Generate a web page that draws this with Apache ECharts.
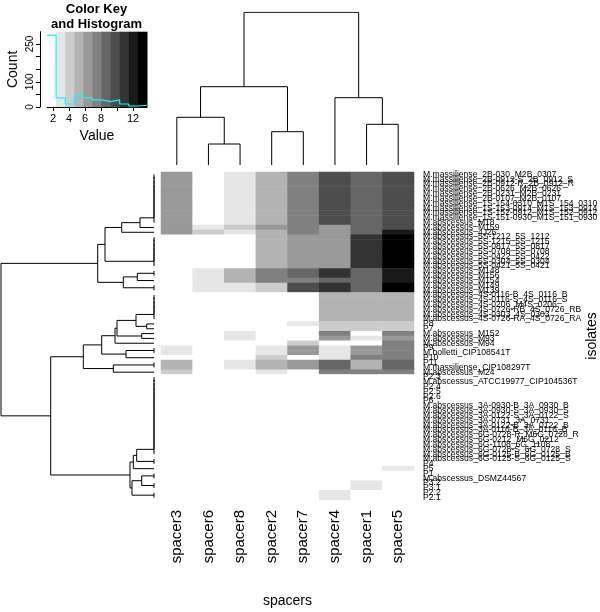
<!DOCTYPE html>
<html><head><meta charset="utf-8">
<script src="https://cdn.jsdelivr.net/npm/echarts@6.0.0/dist/echarts.min.js"></script>
<style>html,body{margin:0;padding:0;background:#fff}#c{width:600px;height:612px}</style>
</head><body><div id="c"></div>
<script>
// ---------- data ----------
const spacers = ['spacer3','spacer6','spacer8','spacer2','spacer7','spacer4','spacer1','spacer5'];
const isolates = [
'M.massiliense_2B-030_M2B_0307','M.massiliense_2B-0912-S_2B_0912_S','M.massiliense_2B-0912-R_2B_0912_R',
'M.massiliense_2B-0626_M2B_0626','M.massiliense_2B-0231_M2B_0231','M.massiliense_2B-0107_M2B_0107',
'M.massiliense_1S-154-0310_M1S_154_0310','M.massiliense_1S-153-0914_M1S_153_0914','M.massiliense_1S-152-0912_M1S_152_0912',
'M.massiliense_1S-151-0930_M1S_151_0930','M.abscessus_M18','M.abscessus_M159','M.abscessus_4J26',
'M.abscessus_5S-1212_5S_1212','M.abscessus_5S-1215_5S_1215','M.abscessus_5S-0817_5S_0817','M.abscessus_5S-0708_5S_0708',
'M.abscessus_5S-0422_5S_0422','M.abscessus_5S-0304_5S_0304','M.abscessus_5S-0421_5S_0421',
'M.abscessus_M148','M.abscessus_M156','M.abscessus_M154','M.abscessus_M149','M.abscessus_M139',
'M.abscessus_4S-0116-B_4S_0116_B','M.abscessus_4S-0116-S_4S_0116_S','M.abscessus_4S-0206_M4S_0206',
'M.abscessus_4S-0726-RB_4S_0726_RB','M.abscessus_4S-0303_4S_0303','M.abscessus_4S-0726-RA_4S_0726_RA',
'P8','P7','M.abscessus_M152','M.abscessus_M93','M.abscessus_M94','P9','M.bolletti_CIP108541T','P10','P11',
'M.massiliense_CIP108297T','M.abscessus_M24','P2.3','M.abscessus_ATCC19977_CIP104536T','P2.4','P2.5','P2.6','P6',
'M.abscessus_3A-0930-B_3A_0930_B','M.abscessus_3A-0930-S_3A_0930_S','M.abscessus_3A-0122-S_3A_0122_S',
'M.abscessus_3A-0731_3A_0731','M.abscessus_3A-0122-B_3A_0122_B','M.abscessus_3A-0116-B_3A_0116_B',
'M.abscessus_6G-0728-R_M6G_0728_R','M.abscessus_6G-0212_M6G_0212','M.abscessus_6G-1108_6G_1108',
'M.abscessus_6G-0728-S_6G_0728_S','M.abscessus_6G-0125-B_6G_0125_B','M.abscessus_6G-0125-S_6G_0125_S',
'P4','P5','P1','M.abscessus_DSMZ44567','P3.2','P3.1','P2.2','P2.1'
];
// one row per isolate, one value per spacer (same order as above)
const values = [
[6.4,1.5,3.0,5.2,7.5,9.8,8.6,9.8],[6.4,1.5,3.0,5.2,7.5,9.8,8.6,9.8],[6.4,1.5,3.0,5.2,7.5,9.8,8.6,9.8],
[6.4,1.5,3.0,5.2,7.5,9.8,8.6,9.8],[6.4,1.5,3.0,5.2,7.5,9.8,8.6,9.8],[6.4,1.5,3.0,5.2,7.5,9.8,8.6,9.8],
[6.4,1.5,3.0,5.2,7.5,9.8,8.6,9.8],[6.4,1.5,3.0,5.2,7.5,9.8,8.6,9.8],[6.4,1.5,3.0,5.2,7.5,9.8,8.6,9.8],
[6.4,1.5,3.0,5.2,7.5,9.8,8.6,9.8],[6.4,1.5,3.0,5.2,7.5,9.8,8.6,9.8],
[6.4,3.0,4.1,6.4,7.5,6.4,8.6,9.8],
[6.4,4.1,3.0,5.2,7.5,6.4,8.6,12.0],
[1.5,1.5,1.5,5.2,6.4,6.4,10.9,13.2],[1.5,1.5,1.5,5.2,6.4,6.4,10.9,13.2],[1.5,1.5,1.5,5.2,6.4,6.4,10.9,13.2],
[1.5,1.5,1.5,5.2,6.4,6.4,10.9,13.2],[1.5,1.5,1.5,5.2,6.4,6.4,10.9,13.2],[1.5,1.5,1.5,5.2,6.4,6.4,10.9,13.2],
[1.5,1.5,1.5,5.2,6.4,6.4,10.9,13.2],
[1.5,3.0,5.2,7.5,8.6,10.9,8.6,12.0],[1.5,3.0,5.2,7.5,8.6,10.9,8.6,12.0],
[1.5,3.0,5.2,7.5,7.5,8.6,8.6,12.0],
[1.5,3.0,3.0,4.1,9.8,10.9,8.6,13.2],[1.5,3.0,3.0,4.1,9.8,10.9,8.6,13.2],
[1.5,1.5,1.5,1.5,1.5,5.2,5.2,5.2],[1.5,1.5,1.5,1.5,1.5,5.2,5.2,5.2],[1.5,1.5,1.5,1.5,1.5,5.2,5.2,5.2],
[1.5,1.5,1.5,1.5,1.5,5.2,5.2,5.2],[1.5,1.5,1.5,1.5,1.5,5.2,5.2,5.2],[1.5,1.5,1.5,1.5,1.5,5.2,5.2,5.2],
[1.5,1.5,1.5,1.5,3.0,4.1,4.1,4.1],
[1.5,1.5,1.5,1.5,1.5,4.1,4.1,4.1],
[1.5,1.5,3.0,1.5,1.5,7.5,1.5,7.5],
[1.5,1.5,3.0,1.5,1.5,6.4,3.0,6.4],
[1.5,1.5,1.5,1.5,4.1,1.5,1.5,7.5],
[3.0,1.5,1.5,3.0,6.4,3.0,6.4,7.5],[3.0,1.5,1.5,3.0,6.4,3.0,6.4,7.5],
[1.5,1.5,1.5,4.1,1.5,3.0,7.5,7.5],
[5.2,1.5,3.0,5.2,6.4,8.6,5.2,8.6],[5.2,1.5,3.0,5.2,6.4,8.6,5.2,8.6],
[4.1,1.5,1.5,3.0,1.5,7.5,7.5,7.5],
[1.5,1.5,1.5,1.5,1.5,1.5,1.5,1.5],[1.5,1.5,1.5,1.5,1.5,1.5,1.5,1.5],[1.5,1.5,1.5,1.5,1.5,1.5,1.5,1.5],
[1.5,1.5,1.5,1.5,1.5,1.5,1.5,1.5],[1.5,1.5,1.5,1.5,1.5,1.5,1.5,1.5],[1.5,1.5,1.5,1.5,1.5,1.5,1.5,1.5],
[1.5,1.5,1.5,1.5,1.5,1.5,1.5,1.5],[1.5,1.5,1.5,1.5,1.5,1.5,1.5,1.5],[1.5,1.5,1.5,1.5,1.5,1.5,1.5,1.5],
[1.5,1.5,1.5,1.5,1.5,1.5,1.5,1.5],[1.5,1.5,1.5,1.5,1.5,1.5,1.5,1.5],[1.5,1.5,1.5,1.5,1.5,1.5,1.5,1.5],
[1.5,1.5,1.5,1.5,1.5,1.5,1.5,1.5],[1.5,1.5,1.5,1.5,1.5,1.5,1.5,1.5],[1.5,1.5,1.5,1.5,1.5,1.5,1.5,1.5],
[1.5,1.5,1.5,1.5,1.5,1.5,1.5,1.5],[1.5,1.5,1.5,1.5,1.5,1.5,1.5,1.5],[1.5,1.5,1.5,1.5,1.5,1.5,1.5,1.5],
[1.5,1.5,1.5,1.5,1.5,1.5,1.5,1.5],
[1.5,1.5,1.5,1.5,1.5,1.5,1.5,3.0],
[1.5,1.5,1.5,1.5,1.5,1.5,1.5,1.5],[1.5,1.5,1.5,1.5,1.5,1.5,1.5,1.5],
[1.5,1.5,1.5,1.5,1.5,1.5,3.0,1.5],[1.5,1.5,1.5,1.5,1.5,1.5,3.0,1.5],
[1.5,1.5,1.5,1.5,1.5,3.0,1.5,1.5],[1.5,1.5,1.5,1.5,1.5,3.0,1.5,1.5]
];
// colour key: breaks, colours, histogram counts
const keyBreaks = [1.25,2.386,3.523,4.659,5.795,6.932,8.068,9.205,10.341,11.477,12.614,13.75];
const keyColors = ['#ffffff','#e6e6e6','#cccccc','#b3b3b3','#999999','#808080','#666666','#4d4d4d','#333333','#1a1a1a','#000000'];
const histCounts = [284,36,12,45,36,28,21,28,12,4,7];
const keyXTicks = [2,4,6,8,10,12];
const keyXLabels = [2,4,6,8,12];
const keyYTicks = [0,50,100,150,200,250];
const keyYLabels = [0,100,250];
// dendrograms: [left, right, mergeHeight]; leaves are 1-based positions
const colTree = [[[1,[2,3,21],47.7],[4,5,33.3],78.3],[6,[7,8,40.7],67.3],152.7];
function tie(a,b){let n=a;for(let i=a+1;i<=b;i++)n=[n,i,0];return n;}
const rowTree = [
  [[[[tie(1,11),12,14],13,32.3],tie(14,20),49],[[tie(21,22),23,16.7],tie(24,25),30.7],56.3],
  [
    [[[[[tie(26,31),[32,33,7.3],18],[34,35,12.3],37],36,39],[tie(37,38),39,28],52.3],[tie(40,41),42,40.7],70.7],
    [[[tie(43,59),tie(60,61),17.3],62,20.7],[[tie(63,64),tie(65,66),12.3],tie(67,68),22],24],
    103.3
  ],
  153
];

// ---------- build ----------
function walk(node, segs){
  if(typeof node==='number') return {p:node-0.5,h:0};
  const L=walk(node[0],segs), R=walk(node[1],segs), h=node[2];
  segs.push([[L.h,L.p],[h,L.p],[h,R.p],[R.h,R.p]]);
  return {p:(L.p+R.p)/2,h:h};
}
const colSegs=[]; walk(colTree,colSegs);
const rowSegs=[]; walk(rowTree,rowSegs);

const heatData=[];
values.forEach((row,r)=>row.forEach((v,c)=>heatData.push([c,r,v])));
const keyYMax = histCounts[0]/0.95;
const FONT='Liberation Sans';

const chart=echarts.init(document.getElementById('c'),null,{renderer:'canvas'});
chart.setOption({
  animation:false,
  backgroundColor:'#fff',
  textStyle:{fontFamily:FONT,color:'#000'},
  graphic:[
    {type:'text',x:96.5,y:2,style:{text:'Color Key\nand Histogram',align:'center',font:'bold 13px '+FONT,lineHeight:15,fill:'#000'}},
    {type:'text',x:592,y:336,rotation:Math.PI/2,style:{text:'isolates',align:'center',verticalAlign:'middle',font:'14px '+FONT,fill:'#000'}}
  ],
  grid:[
    {left:47,top:31.7,width:100,height:75.3,containLabel:false,outerBoundsMode:'none'},
    {left:161,top:12,width:253,height:153,containLabel:false,outerBoundsMode:'none'},
    {left:0,top:172,width:154,height:328,containLabel:false,outerBoundsMode:'none'},
    {left:161,top:172,width:253,height:328,containLabel:false,outerBoundsMode:'none'}
  ],
  xAxis:[
    {gridIndex:0,type:'value',min:keyBreaks[0],max:keyBreaks[keyBreaks.length-1],
     axisLine:{show:true,lineStyle:{color:'#000'}},
     axisTick:{show:true,length:4,customValues:keyXTicks,lineStyle:{color:'#000'}},
     axisLabel:{customValues:keyXLabels,fontSize:11,color:'#000',margin:6,fontFamily:FONT},
     splitLine:{show:false},
     name:'Value',nameLocation:'middle',nameGap:22,nameTextStyle:{fontSize:14,color:'#000',fontFamily:FONT}},
    {gridIndex:1,type:'value',min:0,max:8,show:false},
    {gridIndex:2,type:'value',min:0,max:154,inverse:true,show:false},
    {gridIndex:3,type:'category',data:spacers,position:'bottom',
     axisLine:{show:false},axisTick:{show:false},splitLine:{show:false},
     axisLabel:{rotate:90,interval:0,fontSize:15,color:'#000',margin:10,fontFamily:FONT},
     name:'spacers',nameLocation:'middle',nameGap:94,nameTextStyle:{fontSize:14,color:'#000',fontFamily:FONT}}
  ],
  yAxis:[
    {gridIndex:0,type:'value',min:0,max:keyYMax,offset:7,
     axisLine:{show:true,lineStyle:{color:'#000'}},
     axisTick:{show:true,length:4,customValues:keyYTicks,lineStyle:{color:'#000'}},
     axisLabel:{customValues:keyYLabels,rotate:90,fontSize:10,color:'#000',margin:5,fontFamily:FONT},
     splitLine:{show:false},
     name:'Count',nameLocation:'middle',nameGap:20,nameRotate:90,nameTextStyle:{fontSize:14,color:'#000',fontFamily:FONT}},
    {gridIndex:1,type:'value',min:0,max:153,show:false},
    {gridIndex:2,type:'value',min:0,max:isolates.length,inverse:true,show:false},
    {gridIndex:3,type:'category',data:isolates,inverse:true,position:'right',
     axisLine:{show:false},axisTick:{show:false},splitLine:{show:false},
     axisLabel:{interval:0,fontSize:8.6,color:'#000',margin:9,fontFamily:FONT}}
  ],
  visualMap:{type:'piecewise',show:false,seriesIndex:2,dimension:2,
    pieces:keyColors.map((c,i)=>({gte:keyBreaks[i],lt:keyBreaks[i+1],color:c}))},
  series:[
    {type:'custom',xAxisIndex:0,yAxisIndex:0,silent:true,
     data:keyColors.map((c,i)=>[keyBreaks[i],keyBreaks[i+1],0,keyYMax,i]),
     encode:{x:[0,1],y:[2,3]},
     renderItem:function(params,api){
       const p1=api.coord([api.value(0),api.value(3)]);
       const p2=api.coord([api.value(1),api.value(2)]);
       return {type:'rect',shape:{x:p1[0],y:p1[1],width:p2[0]-p1[0]+0.5,height:p2[1]-p1[1]},
         style:{fill:keyColors[api.value(4)]}};
     },z:1},
    {type:'line',xAxisIndex:0,yAxisIndex:0,step:'end',symbol:'none',silent:true,
     data:keyBreaks.map((b,i)=>[b,histCounts[Math.min(i,histCounts.length-1)]]),
     lineStyle:{color:'#00ffff',width:1.2},z:3},
    {type:'heatmap',xAxisIndex:3,yAxisIndex:3,data:heatData,silent:true,itemStyle:{borderWidth:0}},
    {type:'lines',coordinateSystem:'cartesian2d',xAxisIndex:1,yAxisIndex:1,polyline:true,silent:true,
     data:colSegs.map(s=>({coords:s.map(q=>[q[1],q[0]])})),
     lineStyle:{color:'#000',width:1,opacity:1}},
    {type:'lines',coordinateSystem:'cartesian2d',xAxisIndex:2,yAxisIndex:2,polyline:true,silent:true,
     data:rowSegs.map(s=>({coords:s})),
     lineStyle:{color:'#000',width:1,opacity:1}}
  ]
});
</script></body></html>
